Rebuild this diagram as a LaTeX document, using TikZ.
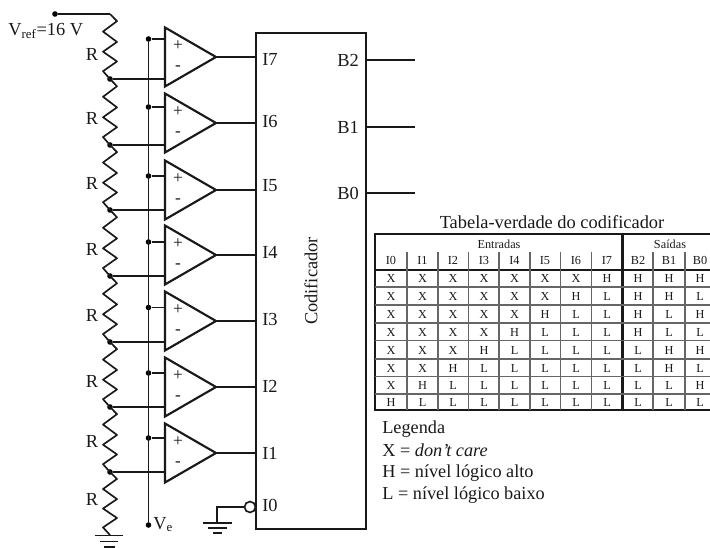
\documentclass[tikz,border=0pt]{standalone}
\usepackage{fontspec}
\setmainfont{Liberation Serif}
\begin{document}
\begin{tikzpicture}[x=0.75pt,y=-0.75pt,
  wire/.style={line width=1.25pt,black!90},
  heavy/.style={line width=1.6pt,black!90},
  grid/.style={line width=0.9pt,black!60},
  thick grid/.style={line width=1.7pt,black!90},
  lab/.style={inner sep=0pt,font=\fontsize{13.8}{15}\selectfont,text=black!90},
  small/.style={inner sep=0pt,font=\fontsize{9.2}{11}\selectfont,text=black!90},
  sign/.style={inner sep=0pt,font=\fontsize{13}{14}\selectfont,text=black!90},
  txt/.style={inner sep=0pt,anchor=base west,font=\fontsize{13.7}{15}\selectfont,text=black!90},
  junction/.style={circle,fill=black,inner sep=0pt,minimum size=4.2pt}]
\useasboundingbox (0,0) rectangle (710,548);
% reference input
\node[junction] (vref) at (55,14) {};
\coordinate (rtop) at (110,14);
\node[lab,anchor=base west] (vreflab) at (8,36) {V\textsubscript{ref}=16 V};
\draw[wire] (vref) -- (rtop);
% chain, comparators and encoder inputs
\node[draw,heavy,minimum width=0pt,inner sep=0pt,anchor=north west,minimum height=496*0.75pt,text width=110*0.75pt] (enc) at (255,32) {};
\node[lab,rotate=90] (codif) at (311,281) {Codificador};
\foreach \i/\lbl/\tip/\plus/\minus/\lx/\ly/\iy in {
  1/I7/57/39/79/92/54/59,
  2/I6/123/107/145/92/118/122,
  3/I5/190/176/210/92/183/186,
  4/I4/255/242/276/92/249/252,
  5/I3/321/307.5/342/92/315/320,
  6/I2/387/373/407/92/381/386,
  7/I1/453/438/472/92/441/453}{
  \coordinate (t\i) at (216,\tip);
  \draw[heavy,line join=miter] (165,\tip-29.5) -- (t\i) -- (165,\tip+29.5) -- cycle;
  \node[sign] (p\i) at (178,\tip-11) {+};
  \node[sign] (m\i) at (178,\tip+11.5) {-};
  \node[junction] (in\i) at (148.5,\plus) {};
  \node[junction] (n\i) at (110,\minus) {};
  \coordinate (pp\i) at (165,\plus);
  \coordinate (mm\i) at (165,\minus);
  \coordinate (o\i) at (255,\tip);
  \draw[wire] (in\i) -- (pp\i);
  \draw[wire] (n\i) -- (mm\i);
  \draw[wire] (t\i) -- (o\i);
  \node[lab,anchor=west] (il\i) at (262,\iy) {\lbl};
  \node[lab] (r\i) at (\lx,\ly) {R};
}
% resistors
\newcommand{\zig}[2]{%
  \draw[wire,line join=round] (110,#1)
    -- (117,{#1+0.11*(#2-#1)}) -- (103,{#1+0.27*(#2-#1)})
    -- (117,{#1+0.43*(#2-#1)}) -- (103,{#1+0.58*(#2-#1)})
    -- (117,{#1+0.73*(#2-#1)}) -- (103,{#1+0.88*(#2-#1)}) -- (110,#2);}
\zig{14}{79}\zig{79}{145}\zig{145}{210}\zig{210}{276}\zig{276}{342}\zig{342}{407}\zig{407}{472}\zig{472}{535}
\node[lab] (r8) at (92,499) {R};
% Ve
\node[junction] (ve) at (148.5,525) {};
\node[lab,anchor=base west] (velab) at (153,529) {V\textsubscript{e}};
\draw[wire] (in1) -- (ve);
% grounds
\draw[wire] (95,535.5) -- (123,535.5) (100,541.5) -- (118,541.5) (104,547) -- (115,547);
\node[lab,anchor=west] (i0) at (262,505) {I0};
\node[circle,draw,wire,fill=white,inner sep=0pt,minimum size=8.2pt] (bub) at (250,507) {};
\coordinate (g2) at (217,523);
\draw[wire] (bub.west) -| (g2);
\draw[wire] (203,523) -- (232,523) (208,528) -- (227,528) (213,533) -- (222,533);
% outputs
\foreach \n/\y in {B2/60,B1/127,B0/193}{
  \coordinate (a\n) at (365,\y);
  \coordinate (b\n) at (415,\y);
  \draw[wire] (a\n) -- (b\n);
  \node[lab,anchor=east] (l\n) at (359,\y) {\n};
}
% table
\node[lab] (ttl) at (552,222) {Tabela-verdade do codificador};
\draw[thick grid] (375,234) rectangle (712,410);
\draw[thick grid] (375,270) -- (712,270);
\draw[thick grid] (622.5,234) -- (622.5,410);
\foreach \x in {407,438,468.7,499,530,560.7,591.7,653,685}{\draw[grid] (\x,252) -- (\x,410);}
\foreach \y in {287,305,323,340.6,359,376.7,394}{\draw[grid] (375,\y) -- (712,\y);}
\node[small] (ent) at (499,244) {Entradas};
\node[small] (sai) at (670,244) {Saídas};
\foreach \c/\x in {I0/391,I1/422.5,I2/453,I3/484,I4/514.5,I5/545,I6/576,I7/607,B2/638,B1/669,B0/700}{
  \node[small] (h\c) at (\x,260.5) {\c};
}
\foreach \row/\y/\vals in {
  a/278/{X,X,X,X,X,X,X,H,H,H,H},
  b/296/{X,X,X,X,X,X,H,L,H,H,L},
  c/314/{X,X,X,X,X,H,L,L,H,L,H},
  d/332/{X,X,X,X,H,L,L,L,H,L,L},
  e/350/{X,X,X,H,L,L,L,L,L,H,H},
  f/368/{X,X,H,L,L,L,L,L,L,H,L},
  g/385.5/{X,H,L,L,L,L,L,L,L,L,H},
  h/402.5/{H,L,L,L,L,L,L,L,L,L,L}}{
  \foreach \v [count=\k] in \vals {
    \pgfmathsetmacro{\cx}{{0,391,422.5,453,484,514.5,545,576,607,638,669,700}[\k]}
    \node[small] (c\row\k) at (\cx,\y) {\v};
  }
}
% legend
\node[txt] (leg0) at (382,434) {Legenda};
\node[txt] (leg1) at (382,456) {X = \textit{don’t care}};
\node[txt] (leg2) at (382,478) {H = nível lógico alto};
\node[txt] (leg3) at (382,499) {L = nível lógico baixo};
\end{tikzpicture}
\end{document}
